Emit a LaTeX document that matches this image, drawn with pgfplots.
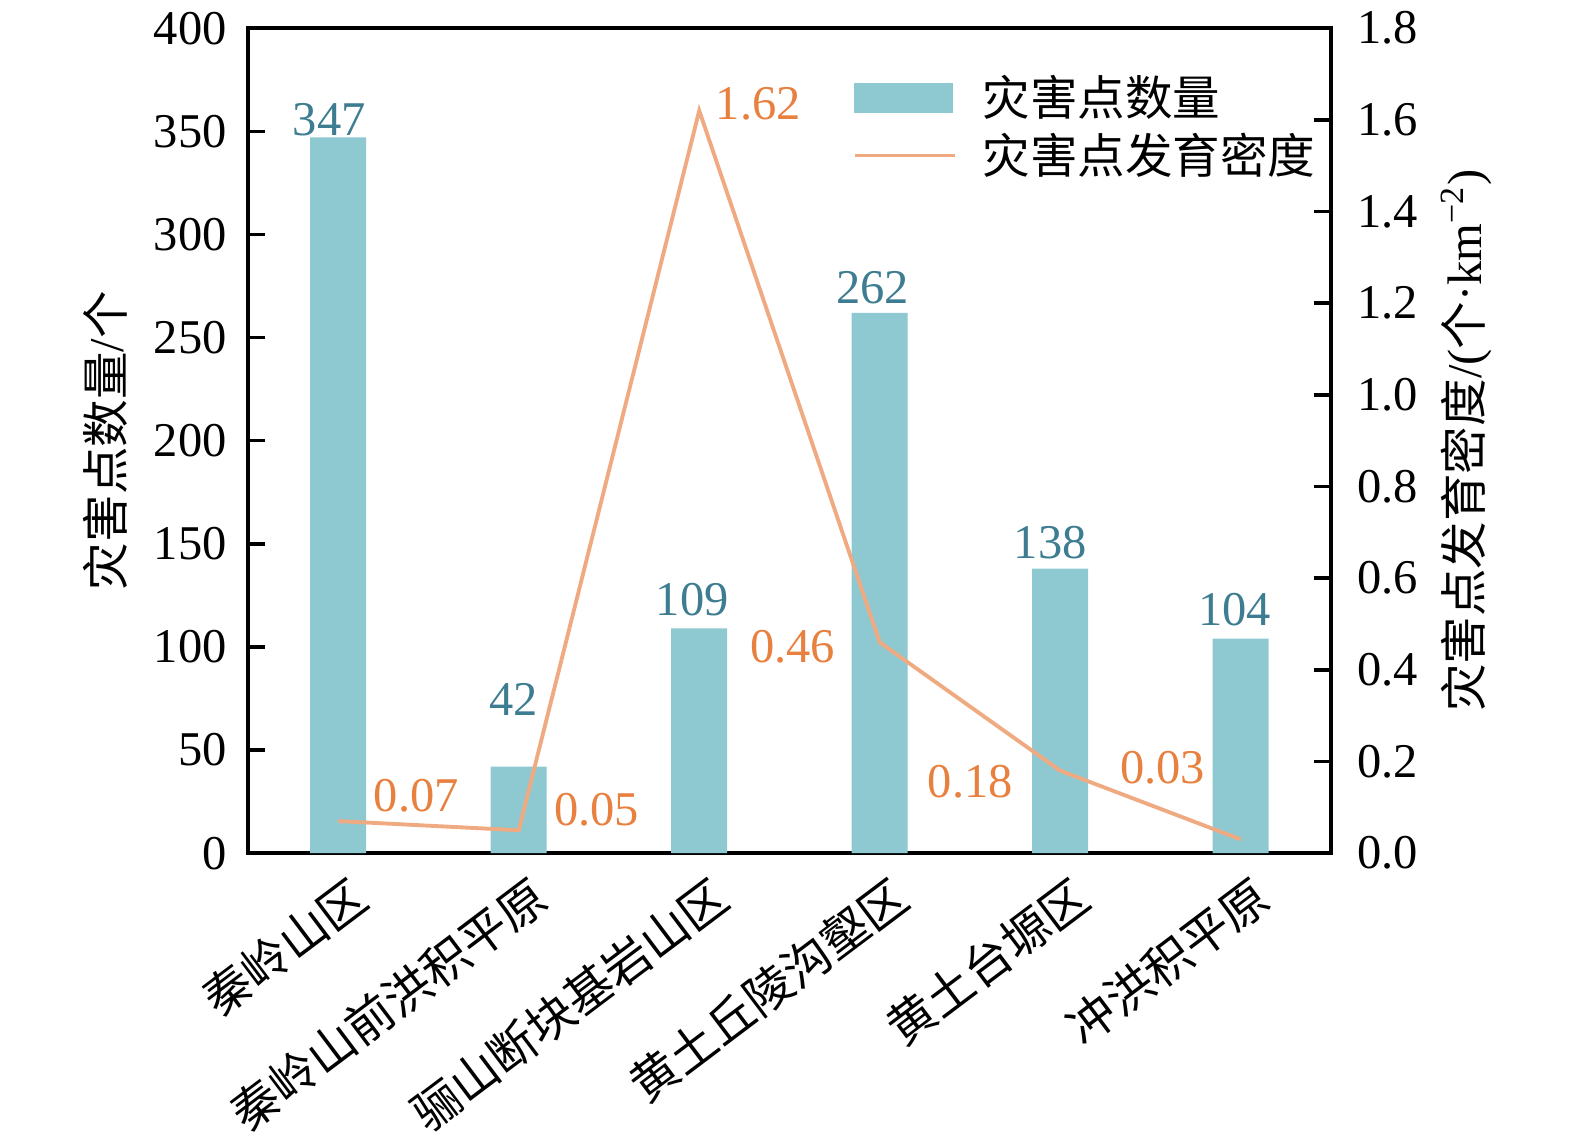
\documentclass[border=0pt]{standalone}
\usepackage{pgfplots}
\pgfplotsset{compat=1.18}
\usepackage{pgfplotstable}
\usepackage{fontspec}
\setmainfont{Liberation Serif}
\newfontfamily\cjk{Noto Sans CJK SC}[Scale=0.98]
\definecolor{barcol}{HTML}{8EC8D1}
\definecolor{barlab}{HTML}{3E7D91}
\definecolor{linecol}{HTML}{F0AA82}
\definecolor{linelab}{HTML}{E8803F}

\pgfplotstableread{
x y lx ly lab
0 347 -0.09 0.01 347
1 42 -0.05 0.50 42
2 109 -0.07 0.12 109
3 262 -0.07 0.08 262
4 138 -0.10 0.09 138
5 104 -0.06 0.12 104
}\bars

\pgfplotstableread{
x y lx ly lab
0 0.07 0.78 0.25 0.07
1 0.05 0.78 0.21 0.05
2 1.62 0.59 0.07 1.62
3 0.46 -0.87 -0.04 0.46
4 0.18 -0.90 -0.11 0.18
5 0.03 -0.78 0.72 0.03
}\dens

\pgfplotsset{
  common/.style={
    width=10.83cm, height=8.25cm, scale only axis,
    xmin=-0.5, xmax=5.5,
    clip=false,
    tick align=inside,
    major tick length=0.17cm,
    axis line style={line width=1pt, black},
    every tick/.style={line width=1pt, black},
    /pgf/number format/assume math mode=true,
  }
}

\begin{document}
\begin{tikzpicture}[font=\fontsize{13.8}{16}\selectfont]
\begin{axis}[common, name=ax,
  ymin=0, ymax=400,
  ytick={0,50,100,150,200,250,300,350,400},
  ytick pos=left,
  yticklabel style={xshift=-0.09cm},
  xtick={0,1,2,3,4,5},
  xticklabels={{\cjk 秦岭山区},{\cjk 秦岭山前洪积平原},{\cjk 骊山断块基岩山区},{\cjk 黄土丘陵沟壑区},{\cjk 黄土台塬区},{\cjk 冲洪积平原}},
  x tick style={draw=none},
  xticklabel style={rotate=37, anchor=north east, inner sep=0pt, yshift=-0.2cm, xshift=-0.04cm},
  ylabel={{\cjk 灾害点数量}/{\cjk 个}},
  ylabel style={at={(axis description cs:-0.132,0.5)}, anchor=center},
]
\addplot[ybar, bar width=0.56cm, fill=barcol, draw=none,
  point meta=explicit symbolic,
  visualization depends on={\thisrow{lx}\as\lx},
  visualization depends on={\thisrow{ly}\as\ly},
  nodes near coords,
  nodes near coords style={anchor=south, inner sep=0pt, text=barlab, xshift=\lx cm, yshift=\ly cm},
] table[x=x, y=y, meta=lab] {\bars};
\end{axis}

\begin{axis}[common,
  axis x line=none, axis y line*=right,
  xtick=\empty,
  ymin=0, ymax=1.8,
  ytick={0,0.2,0.4,0.6,0.8,1.0,1.2,1.4,1.6,1.8},
  yticklabel style={xshift=0.14cm, /pgf/number format/.cd, fixed, fixed zerofill, precision=1},
  ylabel={{\cjk 灾害点发育密度}/({\cjk 个}·km\textsuperscript{−2})},
  ylabel style={at={(axis description cs:1.125,0.5)}, anchor=center},
  legend cell align=left,
  legend style={at={(rel axis cs:0.5577,0.944)}, anchor=north west, draw=none, fill=none,
    inner sep=0pt, row sep=0.12cm, nodes={inner sep=0pt},
    /tikz/every odd column/.append style={column sep=0.26cm}},
]
\addlegendimage{legend image code/.code={\fill[barcol] (0cm,-0.145cm) rectangle (0.98cm,0.145cm);}}
\addplot[linecol, line width=1.1pt, mark=none,
  legend image code/.code={\draw[linecol, line width=1.1pt] (0cm,0cm) -- (1.0cm,0cm);},
  point meta=explicit symbolic,
  visualization depends on={\thisrow{lx}\as\lx},
  visualization depends on={\thisrow{ly}\as\ly},
  nodes near coords,
  nodes near coords style={anchor=center, inner sep=0pt, text=linelab, xshift=\lx cm, yshift=\ly cm},
] table[x=x, y=y, meta=lab] {\dens};
\legend{{\cjk 灾害点数量},{\cjk 灾害点发育密度}}
\end{axis}
\path (ax.south west) ++(-2.48cm,-2.80cm) rectangle ++(15.75cm,11.33cm);
\end{tikzpicture}
\end{document}
